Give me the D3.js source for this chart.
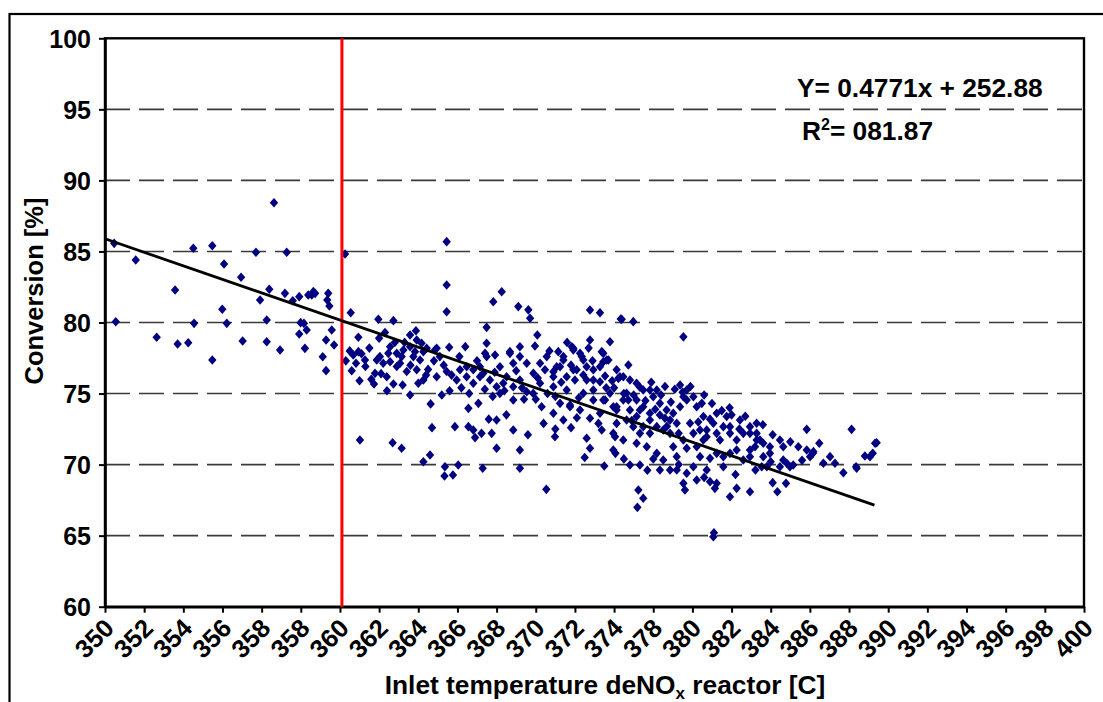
<!DOCTYPE html>
<html>
<head>
<meta charset="utf-8">
<script src="https://cdn.jsdelivr.net/npm/d3@7"></script>
<style>
  body { margin: 0; background: #fff; }
  svg { display: block; }
  text { font-family: Arial, "Liberation Sans", sans-serif; font-weight: bold; fill: #000; }
</style>
</head>
<body>
<svg id="chart" width="1103" height="702"></svg>
<script>
// Axis ticks and their printed labels
const xTickValues = d3.range(350, 401, 2);
const xTickLabels = ["350","352","354","356","358","358","360","362","364","366","368","370","372",
                     "374","378","380","382","384","386","388","390","392","394","396","398","400"];
const yTickValues = [60, 65, 70, 75, 80, 85, 90, 95, 100];
const gridValues = [65, 70, 75, 80, 85, 90, 95];

// Linear fit through the measurements
const trendSlope = -0.4771;
const trendIntercept = 252.88;
const trendRange = [350, 389.3];
const fitLabel = "Y= 0.4771x + 252.88";
const r2Label = "081.87";

// Vertical reference line (at the tick printed "360")
const markerTemp = 362.1;

// Measurements: [inlet temperature, conversion %]
const samples = [
  [350.47,85.57],[350.55,80.05],[351.57,84.40],[352.64,78.96],[353.58,82.29],[353.71,78.49],[354.25,78.58],
  [354.51,85.22],[354.55,79.94],[355.48,85.40],[355.48,77.36],[355.99,80.93],[356.08,84.12],[356.22,79.94],
  [356.95,83.18],[357.03,78.70],[357.71,84.94],[357.92,81.58],[358.26,80.18],[358.26,78.65],[358.39,82.34],
  [358.63,88.43],[358.94,78.06],[359.19,82.05],[359.28,84.94],[359.59,81.53],[359.92,81.82],[359.92,79.19],
  [359.99,79.99],[360.16,79.94],[360.21,78.18],[360.30,79.47],[360.38,81.94],[360.56,81.94],[360.64,82.17],
  [360.73,82.05],[361.12,77.59],[361.29,76.61],[361.29,78.77],[361.35,81.58],[361.40,82.05],[361.46,81.16],
  [361.58,79.47],[361.70,78.42],[362.26,84.82],[362.55,80.69],[362.94,78.96],[362.68,77.71],[362.82,77.13],
  [362.94,77.95],
  [367.45,85.69],[367.45,82.64],[367.45,80.76],[363.96,80.23],[364.73,80.13],[365.88,79.42],[363.28,77.36],
  [363.88,77.36],[363.79,76.42],[363.74,75.67],[364.39,76.18],[364.73,75.67],[364.47,77.83],[364.90,77.83],
  [364.56,77.24],[365.07,77.13],[365.24,78.06],[365.58,78.29],[365.92,78.77],[366.17,78.54],[366.43,78.19],
  [366.26,77.95],[365.75,77.60],[365.41,76.55],[365.92,76.67],[366.26,75.95],[365.58,74.90],[366.63,74.27],
  [366.94,78.19],[367.58,78.26],[367.10,77.60],[366.94,76.18],[367.45,76.55],[367.96,75.95],[368.13,76.67],
  [368.47,76.89],[368.81,76.67],[369.15,76.89],[369.41,77.83],[369.49,78.54],[369.49,79.66],[369.83,81.46],
  [370.26,82.16],[369.92,77.71],[369.32,76.42],[369.66,75.95],[370.00,75.48],[370.17,75.01],[370.51,76.18],
  [370.68,77.83],[370.85,77.13],[371.19,77.60],[371.54,77.13],[371.88,76.42],[371.96,78.35],[372.08,79.12],
  [371.11,81.12],[371.62,80.89],[371.71,80.30],[372.56,77.60],[372.47,76.67],[372.90,76.18],[373.24,76.89],
  [373.41,77.60],[373.92,78.19],[374.26,77.83],[374.77,78.77],[374.77,80.88],[375.28,80.69],[375.79,78.65],
  [375.45,77.83],[376.39,80.23],[376.98,80.06],[376.73,77.01],[376.30,76.18],[375.62,77.36],[374.09,76.67],
  [374.60,75.95],[374.94,75.25],[375.45,74.55],[376.13,74.07],[376.73,74.55],[377.32,73.84],[371.87,75.01],
  [372.30,74.07],[372.90,73.61],[373.41,73.14],[373.75,74.07],[370.85,74.55],[371.54,75.13],[370.00,73.14],
  [370.85,72.44],[371.19,71.03],[370.00,71.15],[369.23,72.20],[369.75,72.20],[368.56,72.67],[368.81,72.44],
  [367.87,72.67],[368.56,73.96],[369.07,74.31],[374.60,71.85],[374.77,71.15],[375.37,72.44],[375.96,71.03],
  [376.05,71.96],[372.98,71.96],[363.02,71.73],[364.69,71.54],[365.15,71.15],[366.26,70.20],[366.60,70.68],
  [367.36,69.85],[368.04,69.97],[369.29,69.74],[371.19,69.74],[376.81,69.97],[377.32,69.97],
  [367.34,69.20],[367.77,69.27],[372.54,68.26],
  [376.34,80.25],[379.54,78.99],[373.92,78.06],[374.35,77.60],[375.37,77.95],[375.45,77.24],[375.71,77.36],
  [373.07,76.89],[373.41,77.36],[372.90,76.54],[374.00,75.95],[374.43,76.31],[374.94,75.95],[375.28,75.83],
  [375.54,76.24],[376.22,76.07],[376.81,75.95],[377.32,75.44],[377.83,75.25],[378.18,75.25],[379.37,75.60],
  [379.71,75.25],[380.05,74.78],[380.48,74.31],[379.54,74.78],[373.58,75.25],[373.24,74.31],[373.75,74.19],
  [374.26,73.84],[374.77,73.26],[375.28,73.61],[375.54,74.55],[375.96,74.07],[376.47,74.55],[376.64,75.02],
  [377.15,74.55],[377.49,74.07],[377.83,73.61],[378.34,73.49],[378.60,73.26],[378.86,73.14],[378.18,72.67],
  [377.49,72.67],[376.98,72.67],[376.64,73.14],[376.13,72.90],[375.96,72.20],[376.47,71.73],[377.15,71.50],
  [377.67,71.26],[378.18,70.79],[378.51,70.32],[379.20,70.56],[379.02,71.26],[379.54,71.73],[379.71,71.15],
  [380.22,71.26],[380.56,71.73],[380.05,72.20],[380.73,72.44],[381.24,73.61],[381.07,72.91],[381.75,73.38],
  [382.43,73.14],[381.92,72.20],[381.41,71.73],[382.26,71.73],[382.94,72.67],[383.28,72.91],[382.60,72.20],
  [383.28,71.73],[382.94,71.03],[382.60,70.32],[383.62,70.56],[383.96,70.79],[384.47,71.73],[384.64,70.32],
  [384.98,69.85],[385.41,71.26],[385.84,72.48],[386.18,70.91],[386.48,71.50],[387.03,70.56],[387.28,70.09],
  [387.71,69.43],[388.13,72.48],[388.39,69.74],[388.81,70.61],[389.21,70.80],[389.41,71.54],[378.34,69.62],
  [378.86,69.62],[379.54,68.68],[380.22,68.92],[380.90,68.80],[381.24,68.68],[379.62,68.21],[381.15,68.33],
  [381.92,67.74],[382.26,68.33],[382.94,68.09],[377.24,68.21],[377.49,67.63],[377.19,66.99],[384.10,68.73],
  [384.34,68.09],[384.78,68.68],[381.07,64.93],[381.10,65.20],[384.47,69.85],[384.82,70.09],[385.15,69.97],
  [383.54,69.85],[383.80,69.85],[384.64,71.26],[382.26,71.03],[381.92,70.79],[381.58,70.56],[381.24,70.79],
  [380.90,70.44],[380.39,70.56],[380.05,69.85],[379.71,69.39],[379.20,69.62],[380.73,69.62],[381.58,69.85],
  [382.94,70.56],[383.20,71.26],[383.45,71.73],[385.84,71.03],[386.69,70.09],[386.01,70.56],[388.36,69.85],
  [389.07,70.56],[389.33,71.50],[376.07,70.79],[383.22,69.62],[386.15,70.79],
  [364.04,77.60],[364.21,77.13],[365.15,77.60],[365.83,77.95],[366.09,77.36],[366.00,75.72],[364.56,78.29],
  [365.58,79.12],[366.85,78.06],[368.47,76.18],[369.15,76.18],[368.81,75.72],[370.85,75.48],[370.34,75.72],
  [371.19,75.95],[372.22,75.72],[372.90,75.48],[372.22,77.13],[373.15,77.95],[373.84,78.29],[374.43,77.36],
  [371.19,78.29],[370.68,77.95],[370.17,76.89],[369.49,77.60],
  [373.58,76.18],[373.92,76.67],[374.60,76.89],[374.94,76.67],[375.28,76.89],[376.13,76.67],[376.47,76.18],
  [377.15,75.72],[377.49,75.25],[378.00,74.78],[378.34,74.31],[378.68,73.84],[379.02,73.61],[379.20,72.91],
  [379.88,72.91],[380.39,72.44],[380.73,71.96],[379.37,74.07],[379.71,74.55],[380.22,74.07],[380.56,73.38],
  [374.43,75.02],[374.94,74.55],[375.79,75.02],[376.13,73.84],[376.81,73.84],[377.15,73.38],[377.83,73.14],
  [378.51,72.44],[378.86,72.20],[377.83,72.20],[377.32,72.20],[381.92,72.67],[382.94,72.20],[383.28,72.20],
  [383.62,71.50],[383.96,71.26],[381.24,72.20],[381.58,72.67],
  [362.30,77.30],[362.50,78.00],[363.10,77.80],[363.50,78.20],[363.30,76.90],[364.00,78.90],[364.30,79.30],
  [364.80,78.60],[365.30,78.60],[364.10,76.40],[364.90,76.90],[365.60,77.00],[366.50,76.70],[366.80,77.30],
  [367.30,77.00],[367.70,76.30],[368.10,77.60],[368.40,78.30],[369.00,77.30],[369.90,76.50],[370.40,75.20],
  [371.00,76.60],[371.40,74.60],[372.00,74.60],[372.60,75.00],[373.00,74.80],[373.30,75.80],[373.80,77.00],
  [374.20,74.70],[374.90,77.30],[375.60,75.40],[376.00,75.40],[376.50,75.00],[377.00,74.90],[377.60,74.50],
  [378.10,73.90],[378.40,74.90],[378.90,74.40],[379.10,75.30],[379.50,75.10],[378.70,72.70],[379.30,72.20],
  [380.30,73.00],[380.90,73.20],[381.50,73.80],[382.00,73.50],[382.70,73.40],[383.60,72.80],[384.10,72.10],
  [385.00,71.60],[385.60,70.30],[384.00,70.20],[382.20,69.30],[380.60,69.10],[379.30,70.00],[378.00,70.40],
  [377.70,69.60],[376.50,70.40],[375.50,69.90],[374.50,70.50],[373.80,72.60],[373.00,72.50],[372.40,72.90],
  [371.60,72.10],[370.50,73.50],[369.60,73.20],[368.90,71.90],[366.70,72.60],
  [368.20,75.40],[368.60,75.00],[369.40,75.30],[369.80,74.80],[367.60,75.20],[367.20,74.90],[366.40,76.30],
  [363.60,76.00],[364.40,75.20],[365.20,75.60],[362.60,76.60],[363.00,75.90],[372.70,78.00],[373.60,78.60],
  [374.70,78.20],[372.10,76.10],[371.30,75.40],[375.90,75.90],[377.90,75.80],[378.60,75.50],[379.90,75.50],
  [380.60,74.90],[381.00,74.30],[381.90,74.00],[382.40,72.50],[376.90,73.10],[375.20,72.90],[374.10,73.30]
];

const svg = d3.select("#chart");
const W = 1103, H = 702;
const plot = { left: 105, right: 1084, top: 38.3, bottom: 606.7 };

const x = d3.scaleLinear().domain([350, 400]).range([plot.left, plot.right]);
const y = d3.scaleLinear().domain([60, 100]).range([plot.bottom, plot.top]);

// Outer chart frame
svg.append("rect")
  .attr("x", 9.5).attr("y", 14).attr("width", W + 20).attr("height", H + 20)
  .attr("fill", "none").attr("stroke", "#000").attr("stroke-width", 2.2);

// Dashed horizontal gridlines
svg.append("g").selectAll("line").data(gridValues).join("line")
  .attr("x1", plot.left).attr("x2", plot.right)
  .attr("y1", d => y(d)).attr("y2", d => y(d))
  .attr("stroke", "#3a3a3a").attr("stroke-width", 1.6)
  .attr("stroke-dasharray", "25,9");

// Plot-area border
svg.append("rect")
  .attr("x", plot.left).attr("y", plot.top)
  .attr("width", plot.right - plot.left).attr("height", plot.bottom - plot.top)
  .attr("fill", "none").attr("stroke", "#000").attr("stroke-width", 2.4);

// Y axis
const yAxis = svg.append("g")
  .attr("transform", `translate(${plot.left},0)`)
  .call(d3.axisLeft(y).tickValues(yTickValues).tickFormat(d3.format("d"))
    .tickSizeInner(6).tickSizeOuter(0).tickPadding(8));
yAxis.select(".domain").attr("stroke-width", 2.6);
yAxis.selectAll(".tick line").attr("stroke-width", 2);
yAxis.selectAll(".tick text")
  .attr("font-size", 25).attr("font-family", null).attr("dy", "0.36em");

// X axis with rotated labels
const xAxis = svg.append("g")
  .attr("transform", `translate(0,${plot.bottom})`)
  .call(d3.axisBottom(x).tickValues(xTickValues).tickFormat((d, i) => xTickLabels[i])
    .tickSizeInner(6).tickSizeOuter(0));
xAxis.select(".domain").attr("stroke-width", 2.6);
xAxis.selectAll(".tick line").attr("stroke-width", 2);
xAxis.selectAll(".tick text")
  .attr("font-size", 25.5).attr("font-family", null)
  .attr("x", 0).attr("y", 0).attr("dy", 0)
  .attr("text-anchor", "end")
  .attr("transform", "translate(10,23) rotate(-45)");
svg.selectAll(".tick text").attr("fill", "#000");

const plotLayer = svg.append("g");

// Measurement markers (navy diamonds)
plotLayer.selectAll("path.pt").data(samples).join("path")
  .attr("class", "pt")
  .attr("d", "M0,-4.8L4.2,0L0,4.8L-4.2,0Z")
  .attr("transform", d => `translate(${x(d[0])},${y(d[1])})`)
  .attr("fill", "#000080");

// Reference temperature line
plotLayer.append("line")
  .attr("x1", x(markerTemp)).attr("x2", x(markerTemp))
  .attr("y1", plot.top).attr("y2", plot.bottom)
  .attr("stroke", "#ff0000").attr("stroke-width", 3);

// Trend line from the fitted equation
const trendPts = trendRange.map(t => [t, trendSlope * t + trendIntercept]);
plotLayer.append("path")
  .attr("d", d3.line().x(d => x(d[0])).y(d => y(d[1]))(trendPts))
  .attr("fill", "none").attr("stroke", "#000").attr("stroke-width", 2.8);

// Fit annotation
svg.append("text").attr("x", 797).attr("y", 97).attr("font-size", 26.3).text(fitLabel);
const r2 = svg.append("text").attr("x", 802).attr("y", 140).attr("font-size", 26.3);
r2.append("tspan").text("R");
r2.append("tspan").attr("font-size", 16).attr("dy", -10).text("2");
r2.append("tspan").attr("dy", 10).text("= " + r2Label);

// Axis titles
svg.append("text")
  .attr("transform", "translate(43,291) rotate(-90)")
  .attr("text-anchor", "middle").attr("font-size", 25.5)
  .text("Conversion [%]");

const xt = svg.append("text")
  .attr("x", 605).attr("y", 694).attr("text-anchor", "middle").attr("font-size", 26.3);
xt.append("tspan").text("Inlet temperature deNO");
xt.append("tspan").attr("font-size", 17).attr("dy", 5).text("x");
xt.append("tspan").attr("dy", -5).text(" reactor [C]");
</script>
</body>
</html>
